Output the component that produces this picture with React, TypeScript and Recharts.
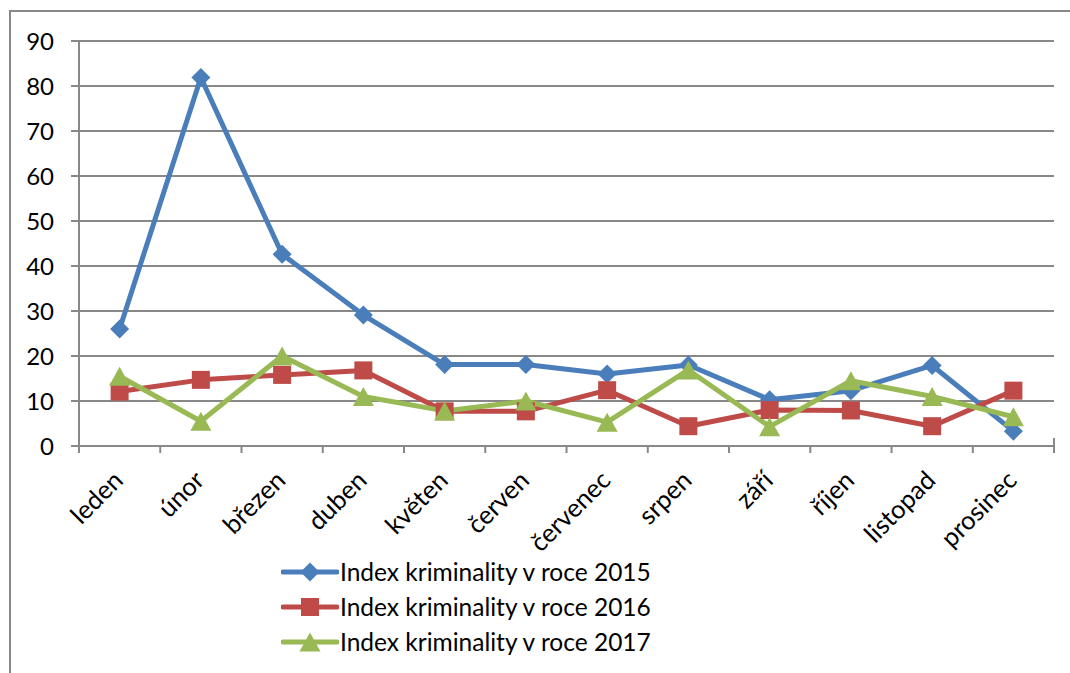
import React from 'react';
import { LineChart, Line, XAxis, YAxis, CartesianGrid } from 'recharts';

const months = ['leden', 'únor', 'březen', 'duben', 'květen', 'červen', 'červenec', 'srpen', 'září', 'říjen', 'listopad', 'prosinec'];
const index2015 = [26, 81.9, 42.6, 29.1, 18.1, 18.1, 16, 18, 10.3, 12.3, 17.9, 3.3];
const index2016 = [12.1, 14.7, 15.8, 16.8, 7.7, 7.7, 12.4, 4.4, 8, 7.9, 4.4, 12.3];
const index2017 = [15.5, 5.5, 20, 11, 7.8, 10, 5.3, 16.9, 4.3, 14.5, 11, 6.5];
const yTicks = [0, 10, 20, 30, 40, 50, 60, 70, 80, 90];

const seriesNames = ['Index kriminality v roce 2015', 'Index kriminality v roce 2016', 'Index kriminality v roce 2017'];
const seriesColors = ['#4a7ebb', '#be4b48', '#98b954'];

const GRID = '#888888';
const FONT = 'Lato, "Open Sans", sans-serif';
const HALF_BAND = 40.6;

const data = months.map((m, i) => ({
  month: m,
  y2015: index2015[i],
  y2016: index2016[i],
  y2017: index2017[i],
}));

function Diamond({ cx, cy, color }: { cx: number; cy: number; color: string }) {
  const r = 9.5;
  return <path d={`M${cx},${cy - r} L${cx + r},${cy} L${cx},${cy + r} L${cx - r},${cy} Z`} fill={color} />;
}

function Square({ cx, cy, color }: { cx: number; cy: number; color: string }) {
  const r = 9;
  return <rect x={cx - r} y={cy - r} width={r * 2} height={r * 2} fill={color} />;
}

function Triangle({ cx, cy, color }: { cx: number; cy: number; color: string }) {
  const w = 10.5;
  const h = 9.5;
  return <path d={`M${cx},${cy - h} L${cx + w},${cy + h} L${cx - w},${cy + h} Z`} fill={color} />;
}

const markers = [Diamond, Square, Triangle];

function MonthTick(props: any) {
  const { x, y, payload, index, visibleTicksCount } = props;
  const half = payload?.offset || HALF_BAND;
  return (
    <g>
      <line x1={x - half} y1={y} x2={x - half} y2={y + 7} stroke={GRID} strokeWidth={2} />
      {index === visibleTicksCount - 1 && (
        <line x1={x + half} y1={y - 8} x2={x + half} y2={y + 7} stroke={GRID} strokeWidth={2} />
      )}
      <g transform={`translate(${x + 5},${y + 36})`}>
        <text x={0} y={0} transform="rotate(-45)" textAnchor="end" fontSize={25.5} fontFamily={FONT} fill="#000">
          {payload.value}
        </text>
      </g>
    </g>
  );
}

function LegendRow({ idx }: { idx: number }) {
  const Marker = markers[idx];
  return (
    <div style={{ display: 'flex', alignItems: 'center', height: 35 }}>
      <svg width={58} height={24} style={{ display: 'block' }}>
        <line x1={2} y1={12} x2={56} y2={12} stroke={seriesColors[idx]} strokeWidth={5} strokeLinecap="round" />
        <Marker cx={29} cy={12} color={seriesColors[idx]} />
      </svg>
      <span style={{ fontFamily: FONT, fontSize: 24.5, color: '#000', marginLeft: 1, whiteSpace: 'nowrap' }}>
        {seriesNames[idx]}
      </span>
    </div>
  );
}

export default function App() {
  const keys = ['y2015', 'y2016', 'y2017'];
  return (
    <div style={{ position: 'absolute', left: 0, top: 0, width: 1070, height: 673, overflow: 'hidden', background: '#fff' }}>
      <div
        style={{
          position: 'absolute',
          left: 9,
          top: 10,
          width: 1080,
          height: 700,
          borderTop: `2px solid ${GRID}`,
          borderLeft: `2px solid ${GRID}`,
        }}
      />
      <div style={{ position: 'absolute', left: 0, top: 0 }}>
        <LineChart width={1070} height={673} data={data} margin={{ top: 41, right: 16, bottom: 127, left: 19 }}>
          <CartesianGrid vertical={false} stroke={GRID} strokeWidth={2} />
          <XAxis
            dataKey="month"
            height={100}
            padding={{ left: HALF_BAND, right: HALF_BAND }}
            axisLine={{ stroke: GRID, strokeWidth: 2 }}
            tickLine={false}
            tickSize={0}
            tickMargin={0}
            interval={0}
            tick={<MonthTick />}
          />
          <YAxis
            width={60}
            domain={[0, 90]}
            ticks={yTicks}
            interval={0}
            axisLine={{ stroke: GRID, strokeWidth: 2 }}
            tickLine={{ stroke: GRID, strokeWidth: 2 }}
            tickSize={8}
            tickMargin={17}
            tick={{ fill: '#000', fontSize: 24, fontFamily: FONT }}
          />
          {keys.map((k, i) => {
            const Marker = markers[i];
            return (
              <Line
                key={k}
                dataKey={k}
                name={seriesNames[i]}
                stroke={seriesColors[i]}
                strokeWidth={5}
                strokeLinejoin="round"
                isAnimationActive={false}
                dot={(p: any) => <Marker key={`${k}-${p.index}`} cx={p.cx} cy={p.cy} color={seriesColors[i]} />}
                activeDot={false}
              />
            );
          })}
        </LineChart>
      </div>
      <div style={{ position: 'absolute', left: 281, top: 554 }}>
        {[0, 1, 2].map((i) => (
          <LegendRow key={i} idx={i} />
        ))}
      </div>
    </div>
  );
}
